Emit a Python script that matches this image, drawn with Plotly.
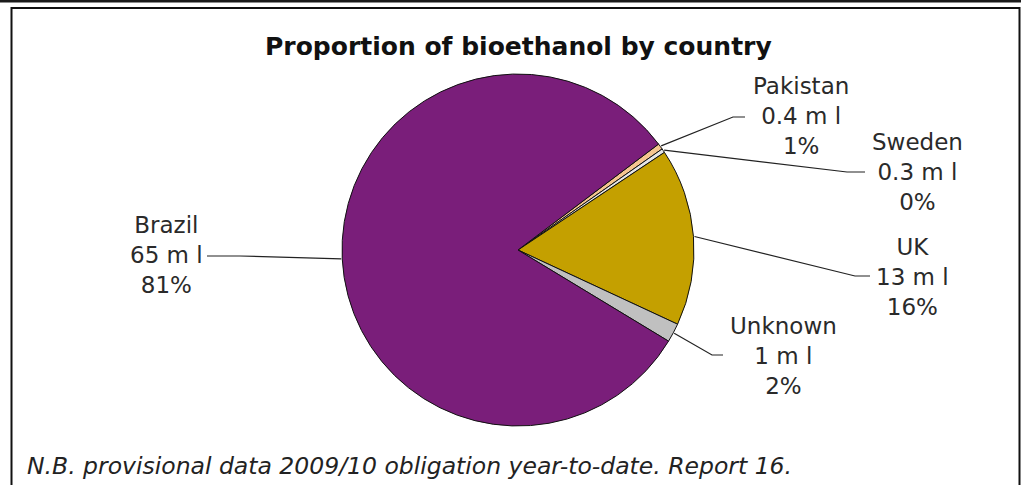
import math
import plotly.graph_objects as go

# ---- data ----
countries = ["Pakistan", "Sweden", "UK", "Unknown", "Brazil"]
volumes = [0.44, 0.3, 13.1, 1.4, 65.2]          # million litres
volume_labels = ["0.4 m l", "0.3 m l", "13 m l", "1 m l", "65 m l"]
slice_colors = ["#F5C58F", "#E6E6E6", "#C4A000", "#C0C0C0", "#7A1E7A"]

title_text = "Proportion of bioethanol by country"
note_text = "N.B. provisional data 2009/10 obligation year-to-date. Report 16."

total = sum(volumes)
percent_labels = [f"{round(100 * v / total)}%" for v in volumes]

# ---- layout geometry (pixels) ----
W, H = 1026, 485
cx, cy, R = 518, 250, 176
rotation = 53

def px(x):
    return x / W

def py(y):
    return 1 - y / H

# label elbows / ends / label centres (pixel layout positions)
elbows = [(733, 117), (847, 172), (855, 276), (712, 355), (240, 256)]
ends = [(745, 117), (865, 172), (870, 276), (723, 355), (207, 256)]
label_centres = [(801, 116), (917, 172), (912, 277), (783, 356), (166, 255)]

fig = go.Figure()
fig.add_trace(go.Pie(
    labels=countries,
    values=volumes,
    sort=False,
    direction="clockwise",
    rotation=rotation,
    textinfo="none",
    hoverinfo="label+value+percent",
    marker=dict(colors=slice_colors, line=dict(color="#111111", width=1)),
    domain=dict(x=[px(cx - R), px(cx + R)], y=[py(cy + R), py(cy - R)]),
    showlegend=False,
))

shapes = []
annotations = []
cum = 0.0
for i, v in enumerate(volumes):
    mid = rotation + (cum + v / 2) / total * 360
    cum += v
    a = math.radians(mid)
    ax_ = cx + (R + 1) * math.sin(a)
    ay_ = cy - (R + 1) * math.cos(a)
    ex, ey = elbows[i]
    tx, ty = ends[i]
    shapes.append(dict(
        type="path", xref="paper", yref="paper",
        path=f"M {px(ax_)} {py(ay_)} L {px(ex)} {py(ey)} L {px(tx)} {py(ty)}",
        line=dict(color="#222222", width=1.2),
    ))
    lx, ly = label_centres[i]
    annotations.append(dict(
        x=px(lx), y=py(ly), xref="paper", yref="paper",
        text=f"{countries[i]}<br>{volume_labels[i]}<br>{percent_labels[i]}",
        showarrow=False, xanchor="center", yanchor="middle", align="center",
        font=dict(family="DejaVu Sans", size=23, color="#2a2a2a"),
    ))

# title
annotations.append(dict(
    x=px(518), y=py(46), xref="paper", yref="paper",
    text=title_text, showarrow=False, xanchor="center", yanchor="middle",
    font=dict(family="DejaVu Sans", size=25, color="#111111", weight="bold"),
))
# footnote
annotations.append(dict(
    x=px(25), y=py(466), xref="paper", yref="paper",
    text=note_text, showarrow=False, xanchor="left", yanchor="middle",
    font=dict(family="DejaVu Sans", size=23.5, color="#222222", style="italic"),
))

# frame
shapes.append(dict(type="rect", xref="paper", yref="paper",
                   x0=0, x1=px(1021), y0=py(2.5), y1=1,
                   fillcolor="#1a1a1a", line=dict(width=0)))
shapes.append(dict(type="rect", xref="paper", yref="paper",
                   x0=px(11.5), x1=px(1019.5), y0=py(520), y1=py(8),
                   fillcolor="rgba(0,0,0,0)", line=dict(color="#111111", width=2)))

fig.update_layout(
    width=W, height=H,
    margin=dict(l=0, r=0, t=0, b=0),
    paper_bgcolor="white", plot_bgcolor="white",
    shapes=shapes, annotations=annotations,
)
fig.write_html(
    "out.html",
    config={"displayModeBar": False},
    post_script="document.body.style.margin='0';document.body.style.overflow='hidden';",
)
